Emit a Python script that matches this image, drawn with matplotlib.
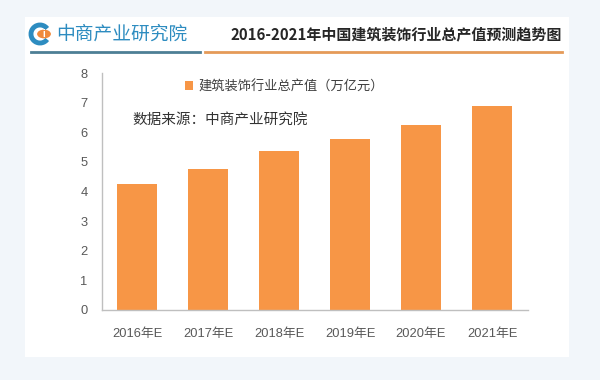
import matplotlib
matplotlib.use("Agg")
import matplotlib.pyplot as plt
from matplotlib.patches import Rectangle, Arc, Circle
from matplotlib.lines import Line2D

plt.rcParams['font.family'] = ['Liberation Sans', 'Noto Sans CJK SC', 'DejaVu Sans']

# Data
years = ['2016年E', '2017年E', '2018年E', '2019年E', '2020年E', '2021年E']
values = [4.27, 4.77, 5.37, 5.78, 6.26, 6.87]
yticks = [0, 1, 2, 3, 4, 5, 6, 7, 8]
series_name = '建筑装饰行业总产值（万亿元）'
title = '2016-2021年中国建筑装饰行业总产值预测趋势图'
brand = '中商产业研究院'
source = '数据来源：中商产业研究院'

W, H = 600, 380
fig = plt.figure(figsize=(6, 3.8), dpi=100)
fig.patch.set_facecolor('#f2f6fa')

def fx(px):
    return px / W

def fy(py):
    return 1 - py / H

# white panel
fig.patches.append(Rectangle((fx(25), fy(357)), fx(569) - fx(25), fy(17) - fy(357),
                             transform=fig.transFigure, facecolor='white',
                             edgecolor='none', zorder=-5))

# header: logo, title, underlines
fig.patches.append(Arc((fx(40), fy(34)), fx(18), 18 / H, theta1=50, theta2=310,
                       transform=fig.transFigure, color='#2d8cc0', lw=3.5, zorder=2))
fig.patches.append(Circle((fx(44), fy(34)), 0.0115, transform=fig.transFigure,
                          facecolor='#f08a3c', edgecolor='none', zorder=3))
fig.text(fx(44), fy(34), 'i', color='white', fontsize=7, fontweight='bold',
         ha='center', va='center', zorder=4)
fig.text(fx(56), fy(34), brand, color='#2d8cc0', fontsize=13.5,
         family=['Noto Sans CJK SC'], ha='left', va='center')
fig.text(fx(230), fy(34), title, color='#262626', fontsize=10.8, fontweight='bold',
         family=['Noto Sans CJK SC', 'DejaVu Sans'], ha='left', va='center')
fig.lines.append(Line2D([fx(31), fx(200)], [fy(52), fy(52)], transform=fig.transFigure,
                        color='#4d7f95', lw=2))
fig.lines.append(Line2D([fx(205), fx(562)], [fy(52), fy(52)], transform=fig.transFigure,
                        color='#e59a58', lw=2))

# chart
ax = fig.add_axes([fx(101.5), fy(310), fx(527.5) - fx(101.5), fy(73) - fy(310)])
ax.set_facecolor('none')
ax.set_zorder(1)
x = range(len(years))
ax.bar(x, values, width=0.56, color='#f79646', label=series_name, zorder=2)
ax.set_xlim(-0.5, len(years) - 0.5)
ax.set_ylim(0, 8)
ax.set_yticks(yticks)
ax.set_xticks(list(x))
ax.set_xticklabels(years)
ax.tick_params(axis='both', length=0, colors='#595959', labelsize=9.3)
ax.tick_params(axis='y', pad=10)
ax.tick_params(axis='x', pad=13)
for s in ['top', 'right']:
    ax.spines[s].set_visible(False)
for s in ['left', 'bottom']:
    ax.spines[s].set_color('#bfbfbf')
    ax.spines[s].set_linewidth(1)

leg = ax.legend(loc='upper left', bbox_to_anchor=(fx(185), fy(80)),
                bbox_transform=fig.transFigure, frameon=False, fontsize=9.5,
                handlelength=0.6, handleheight=0.6, handletextpad=0.4,
                borderpad=0, borderaxespad=0)
for t in leg.get_texts():
    t.set_color('#404040')
    t.set_family(['Noto Sans CJK SC'])

fig.text(fx(132), fy(120), source, color='#333333', fontsize=10.5, style='italic',
         family=['Noto Sans CJK SC'], ha='left', va='center', zorder=5)

fig.savefig('out.png', dpi=100, facecolor=fig.get_facecolor())
